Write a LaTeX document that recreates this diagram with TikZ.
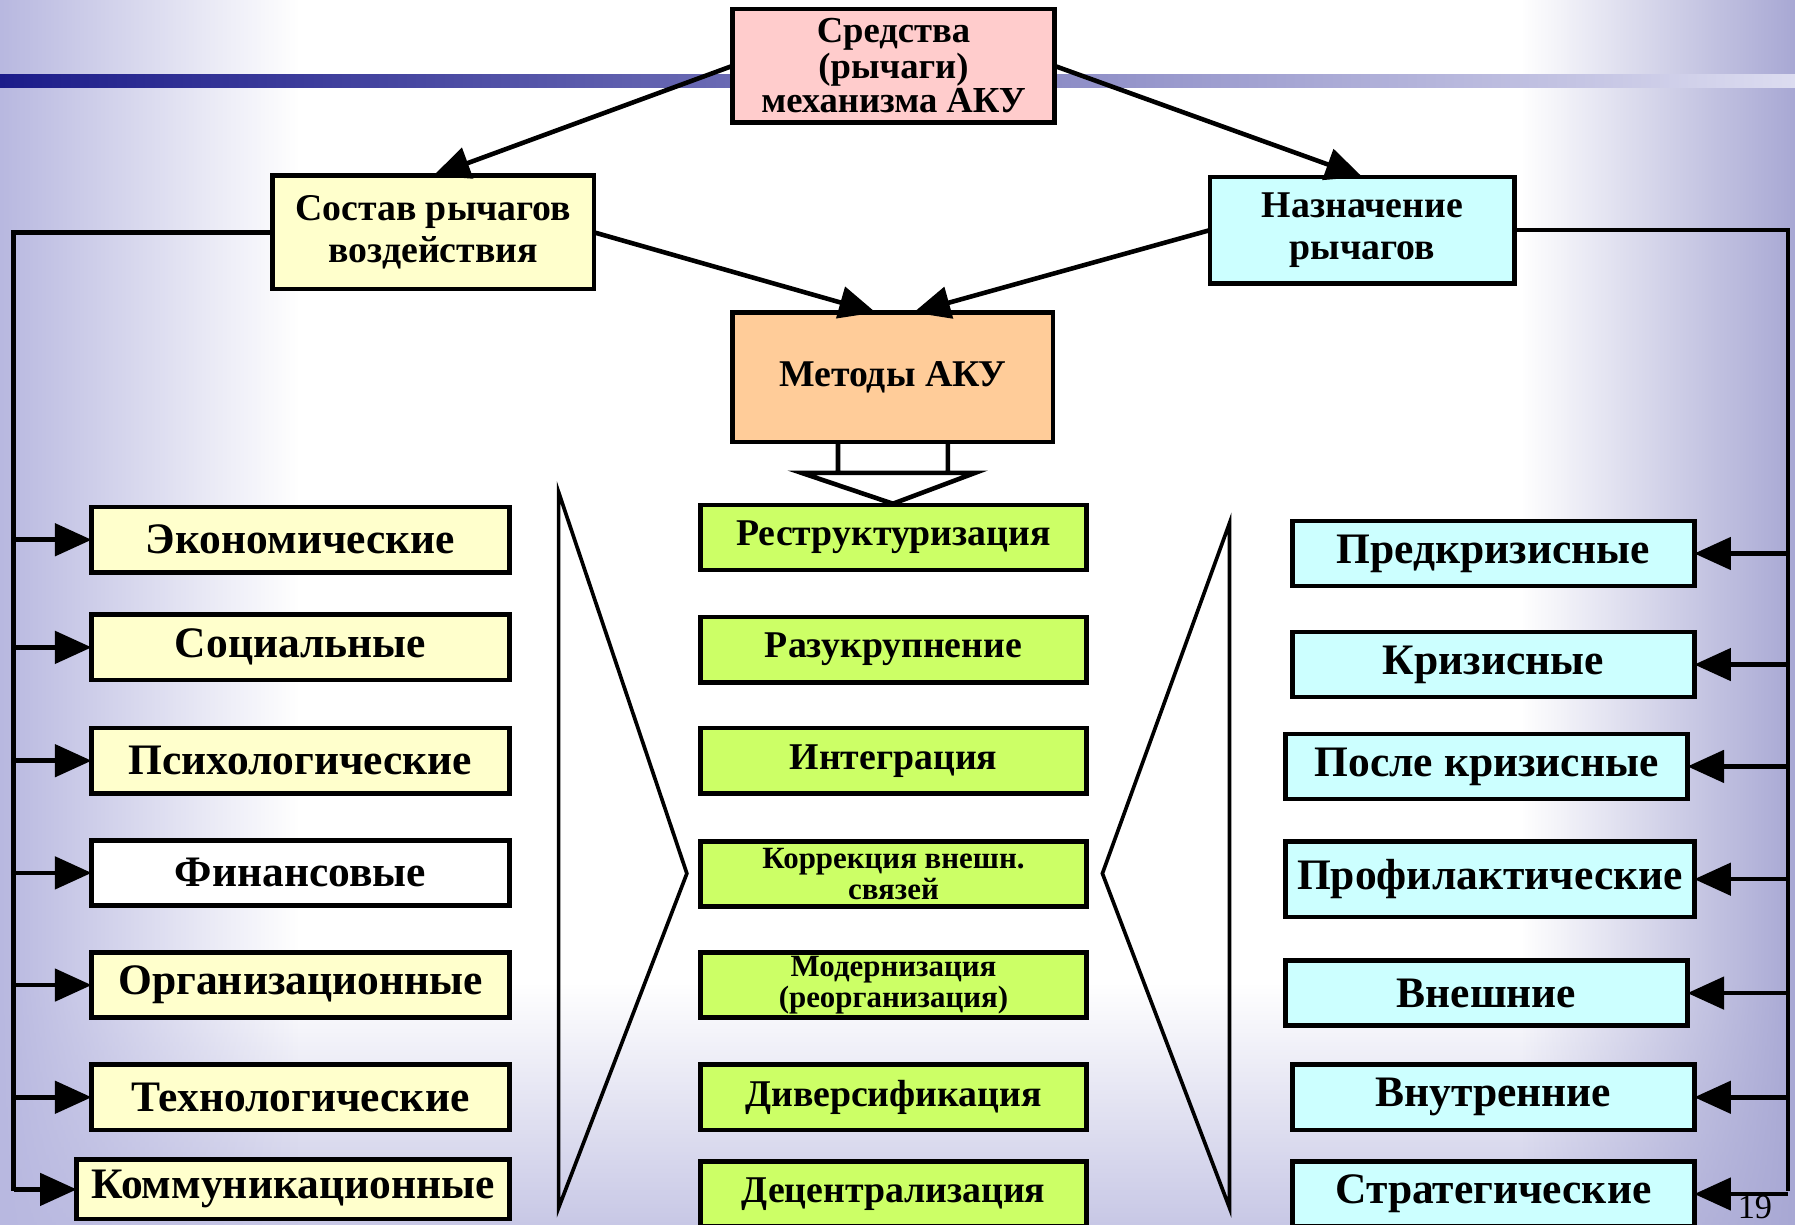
\documentclass[tikz,border=0pt]{standalone}
\usepackage{fontspec}
\setmainfont{Liberation Serif}
\usetikzlibrary{arrows.meta,fadings}
\definecolor{cffcccc}{RGB}{255,204,204}
\definecolor{cffffcc}{RGB}{255,255,204}
\definecolor{cccffff}{RGB}{204,255,255}
\definecolor{cffcc99}{RGB}{255,204,153}
\definecolor{cccff66}{RGB}{204,255,102}
\definecolor{c1c1c8a}{RGB}{28,28,138}
\definecolor{c7070c0}{RGB}{112,112,192}
\definecolor{cdcdcf0}{RGB}{220,220,240}
\definecolor{cb8b8e0}{RGB}{184,184,224}
\definecolor{ca8a8d4}{RGB}{168,168,212}
\definecolor{cc8c8e6}{RGB}{200,200,230}

\begin{document}
\begin{tikzpicture}[y=-0.5pt, x=0.5pt, inner sep=0pt, outer sep=0pt,
  box/.style={draw=black, line width=2pt, align=center},
  head/.style={box, font=\fontsize{16.5}{18.5}\selectfont\bfseries},
  lever/.style={box, fill=cffffcc, minimum width=182.5pt, minimum height=28.5pt,
    font=\fontsize{19}{19}\selectfont\bfseries},
  kind/.style={box, fill=cccffff, minimum width=175.5pt, minimum height=28.5pt,
    font=\fontsize{19}{19}\selectfont\bfseries},
  method/.style={box, fill=cccff66, minimum width=168.5pt, minimum height=28.5pt,
    font=\fontsize{16.5}{16.5}\selectfont\bfseries},
  tight/.style={font=\fontsize{13.5}{10}\selectfont\bfseries},
  link/.style={line width=2pt, -{Triangle[length=16pt, width=14pt]}},
  bus/.style={line width=2pt},
  chevron/.style={line width=1.6pt, line join=miter}]
  \useasboundingbox (0,0) rectangle (1568,1070);
  % slide background
  \fill[white] (0,0) rectangle (1568,1070);
  \fill[cc8c8e6, path fading=north] (0,860) rectangle (1568,1070);
  \fill[cb8b8e0, path fading=east] (0,0) rectangle (260,1070);
  \fill[ca8a8d4, path fading=west] (1330,0) rectangle (1568,1070);
  \shade[left color=c1c1c8a, middle color=c7070c0, right color=cdcdcf0]
  (0,65) rectangle (1568,76);

  \node[head, fill=cffcccc, minimum width=140.5pt, minimum height=49.5pt,
    font=\fontsize{16}{13}\selectfont\bfseries]
  (sredstva) at (780.5,57.5) {Средства\\(рычаги)\\механизма АКУ};
  \node[head, fill=cffffcc, minimum width=140.5pt, minimum height=49.5pt]
  (sostav) at (378.5,203) {Состав рычагов\\воздействия};
  \node[head, fill=cccffff, minimum width=133pt, minimum height=46.5pt]
  (nazn) at (1190,201) {Назначение\\рычагов};
  \node[head, fill=cffcc99, minimum width=140pt, minimum height=56.5pt]
  (methods) at (780,329.5) {Методы АКУ};

  \node[lever] (econ) at (262.5,471.5) {Экономические};
  \node[lever] (soc) at (262.5,565.5) {Социальные};
  \node[lever] (psy) at (262.5,664.5) {Психологические};
  \node[lever, fill=white] (fin) at (262.5,762.5) {Финансовые};
  \node[lever] (org) at (262.5,860.5) {Организационные};
  \node[lever] (tech) at (262.5,958.5) {Технологические};
  \node[lever, minimum width=189pt, minimum height=26pt] (comm) at (256,1039) {Коммуникационные};

  \node[method] (restr) at (780.5,469.5) {Реструктуризация};
  \node[method] (razuk) at (780.5,567.5) {Разукрупнение};
  \node[method] (integr) at (780.5,664.5) {Интеграция};
  \node[method, tight] (korr) at (780.5,763.5) {Коррекция внешн.\\связей};
  \node[method, tight] (modern) at (780.5,860.5) {Модернизация\\(реорганизация)};
  \node[method] (divers) at (780.5,958.5) {Диверсификация};
  \node[method] (decentr) at (780.5,1043) {Децентрализация};

  \node[kind] (prekr) at (1304.5,483.5) {Предкризисные};
  \node[kind] (krit) at (1304.5,580.5) {Кризисные};
  \node[kind] (postkr) at (1298.5,669.5) {После кризисные};
  \node[kind, minimum width=178.5pt, minimum height=33pt] (profil) at (1301.5,768) {Профилактические};
  \node[kind] (vnesh) at (1298.5,867.5) {Внешние};
  \node[kind] (vnutr) at (1304.5,958.5) {Внутренние};
  \node[kind] (strat) at (1304.5,1043) {Стратегические};

  \node[font=\fontsize{15}{15}\selectfont] (pagenum) at (1533,1055) {19};

  \draw[link] (sredstva.west) -- (sostav.north);
  \draw[link] (sredstva.east) -- (nazn.north);
  \draw[link] (sostav.east) -- ([xshift=-7.5pt]methods.north);
  \draw[link] (nazn.west) -- ([xshift=9pt]methods.north);

  % hollow arrow under the methods box
  \coordinate (hollow-tip) at (780,440);
  \draw[chevron, line width=2pt] ([xshift=-24pt]methods.south) -- ++(0,27)
  ([xshift=24pt]methods.south) -- ++(0,27)
  (700,413) -- (852,413) -- (hollow-tip) -- cycle;

  \draw[chevron] (488,430) -- (600,763) -- (488,1055) -- cycle;
  \draw[chevron] (1074,457) -- (963,763) -- (1074,1055) -- cycle;

  \coordinate (bus-l) at (12,1040);
  \coordinate (bus-r) at (1562,1040);
  \draw[bus] (sostav.west) -| (bus-l);
  \draw[bus] (nazn.east) -| (bus-r);
  \foreach \b in {econ,soc,psy,fin,org,tech,comm}
    \draw[link] (bus-l |- \b.west) -- (\b.west);
  \foreach \b in {prekr,krit,postkr,profil,vnesh,vnutr,strat}
    \draw[link] (bus-r |- \b.east) -- (\b.east);
\end{tikzpicture}
\end{document}
